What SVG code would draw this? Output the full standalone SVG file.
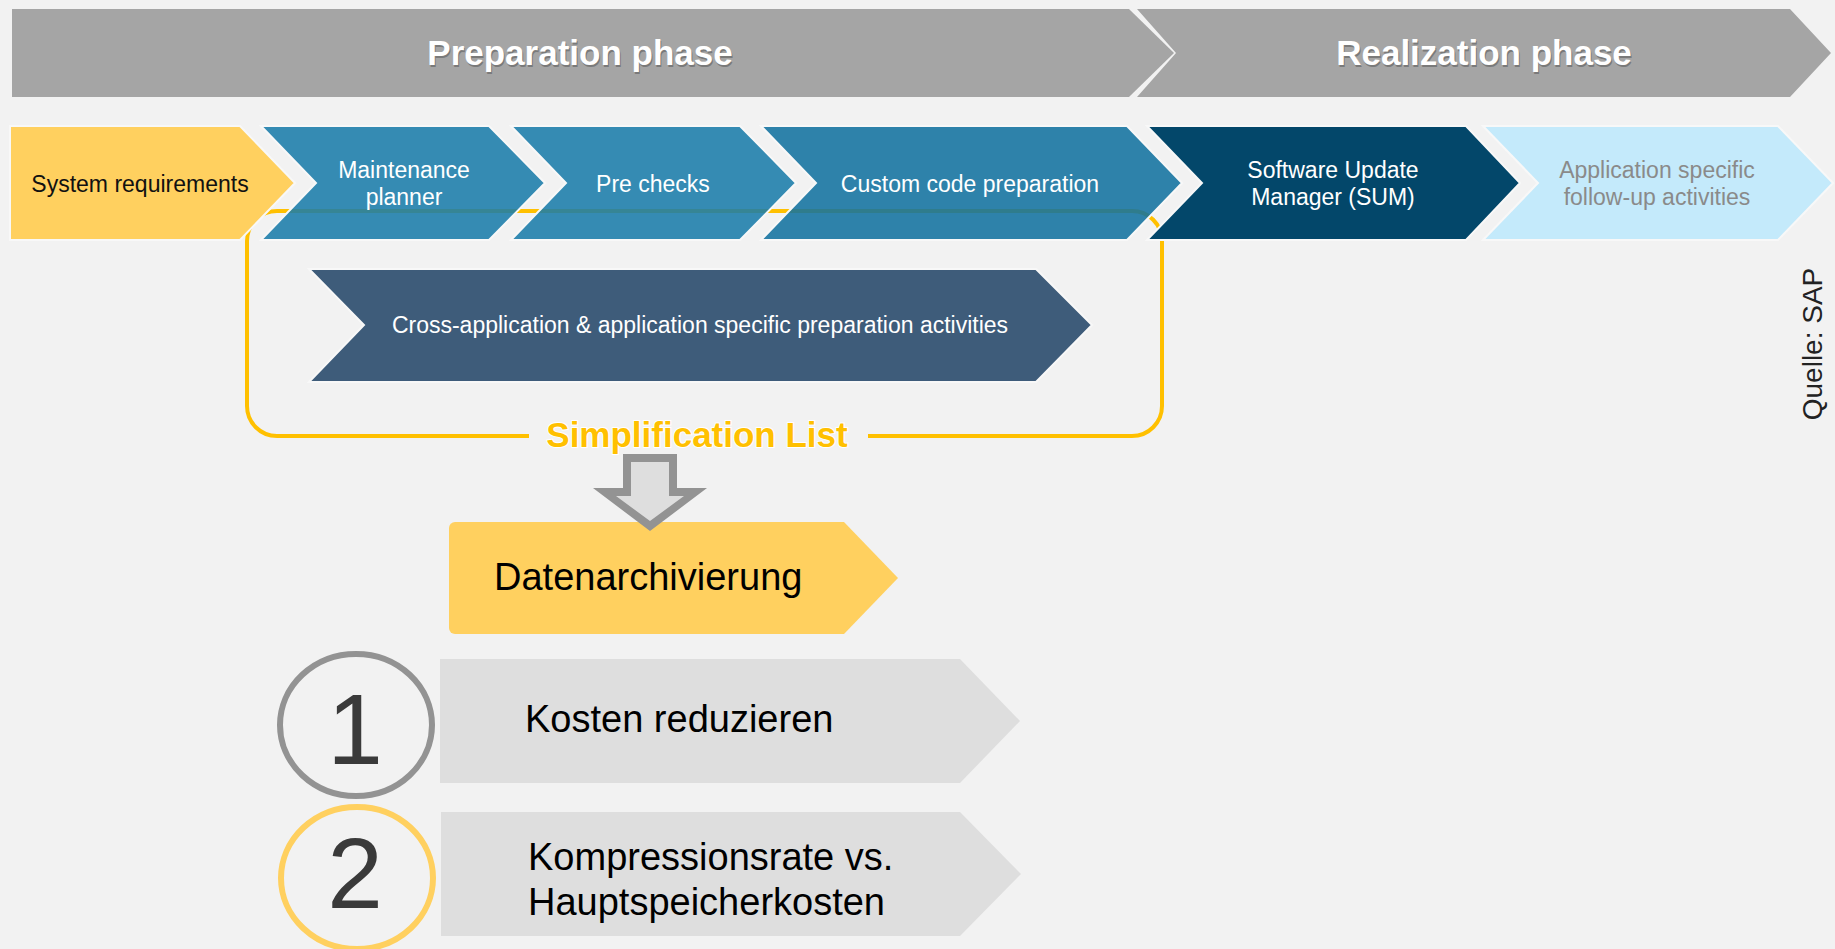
<svg xmlns="http://www.w3.org/2000/svg" width="1835" height="949" viewBox="0 0 1835 949">
<style>
.t{font-family:"Liberation Sans",Arial,sans-serif}
.hd{font-size:35px;font-weight:bold;fill:#ffffff;text-anchor:middle}
.hds{font-size:35px;font-weight:bold;fill:#7a7a7a;text-anchor:middle}
.ch{stroke:#f8f8f8;stroke-width:2}
.s23{font-size:23px;text-anchor:middle}
.big{font-size:38px;fill:#000}
.num{font-size:100px;fill:#3a3a3a;text-anchor:middle}
</style>
<rect width="1835" height="949" fill="#f2f2f2"/>

<g id="banner-preparation">
<polygon points="12,9 1129,9 1174,53 1129,97 12,97" fill="#a5a5a5"/>
<text class="t hds" x="581" y="66.5">Preparation phase</text>
<text class="t hd" x="580" y="65">Preparation phase</text>
</g>
<g id="banner-realization">
<polygon points="1137,9 1790,9 1831,53 1790,97 1137,97 1176,53" fill="#a5a5a5"/>
<text class="t hds" x="1485" y="66.5">Realization phase</text>
<text class="t hd" x="1484" y="65">Realization phase</text>
</g>

<g id="simplification-list">
<path d="M529,436 H277 A30,30 0 0 1 247,406 V241 A30,30 0 0 1 277,211 H1132 A30,30 0 0 1 1162,241 V406 A30,30 0 0 1 1132,436 H868" fill="none" stroke="#ffc000" stroke-width="4"/>
<text class="t" x="697" y="447" font-size="35" font-weight="bold" fill="#ffc000" stroke="#ffffff" stroke-width="2" paint-order="stroke" text-anchor="middle">Simplification List</text>
</g>

<g id="system-requirements">
<polygon class="ch" points="10,126 240,126 295,183 240,240 10,240" fill="#ffd05f"/>
<text class="t s23" x="140" y="192" fill="#111">System requirements</text>
</g>
<g id="maintenance-planner">
<polygon class="ch" points="261,126 489,126 545,183 489,240 261,240 316,183" fill="#1a7caa" fill-opacity="0.88"/>
<text class="t s23" x="404" y="178" fill="#fff">Maintenance</text>
<text class="t s23" x="404" y="205" fill="#fff">planner</text>
</g>
<g id="pre-checks">
<polygon class="ch" points="511,126 740,126 796,183 740,240 511,240 566,183" fill="#1a7caa" fill-opacity="0.88"/>
<text class="t s23" x="653" y="192" fill="#fff">Pre checks</text>
</g>
<g id="custom-code">
<polygon class="ch" points="761,126 1127,126 1182,183 1127,240 761,240 816,183" fill="#12729f" fill-opacity="0.88"/>
<text class="t s23" x="970" y="192" fill="#fff">Custom code preparation</text>
</g>
<g id="sum">
<polygon class="ch" points="1147,126 1466,126 1520,183 1466,240 1147,240 1202,183" fill="#03476a"/>
<text class="t s23" x="1333" y="178" fill="#fff">Software Update</text>
<text class="t s23" x="1333" y="205" fill="#fff">Manager (SUM)</text>
</g>
<g id="app-specific">
<polygon class="ch" points="1483,126 1778,126 1833,183 1778,240 1483,240 1538,183" fill="#c4eafb"/>
<text class="t s23" x="1657" y="178" fill="#8a8a8a">Application specific</text>
<text class="t s23" x="1657" y="205" fill="#8a8a8a">follow-up activities</text>
</g>

<g id="cross-application">
<polygon class="ch" points="309,269 1036,269 1092,325 1036,382 309,382 364,325" fill="#3e5c7a"/>
<text class="t s23" x="700" y="333" fill="#fff">Cross-application &amp; application specific preparation activities</text>
</g>

<g id="datenarchivierung">
<path d="M455,522 H844 L898,578 L844,634 H455 A6,6 0 0 1 449,628 V528 A6,6 0 0 1 455,522 Z" fill="#ffd05f"/>
<text class="t big" x="494" y="590">Datenarchivierung</text>
</g>

<g id="connectors">
<polygon points="623,454 677,454 677,488 707,488 650,531 593,488 623,488" fill="#939393"/>
<polygon points="631,462 669,462 669,496 684,496 650,521 616,496 631,496" fill="#dedede"/>
</g>

<g id="item-1">
<ellipse cx="356" cy="725" rx="76" ry="71" fill="none" stroke="#939393" stroke-width="6"/>
<text class="t num" x="355" y="764">1</text>
<polygon points="440,659 960,659 1020,721 960,783 440,783" fill="#dedede"/>
<text class="t big" x="525" y="732">Kosten reduzieren</text>
</g>

<g id="item-2">
<ellipse cx="357" cy="878" rx="76" ry="71" fill="none" stroke="#ffd05f" stroke-width="6"/>
<text class="t num" x="355" y="908">2</text>
<polygon points="441,812 960,812 1021,874 960,936 441,936" fill="#dedede"/>
<text class="t big" x="528" y="870">Kompressionsrate vs.</text>
<text class="t big" x="528" y="915">Hauptspeicherkosten</text>
</g>

<text class="t" transform="translate(1822,344) rotate(-90)" font-size="28" fill="#222" text-anchor="middle">Quelle: SAP</text>
</svg>
